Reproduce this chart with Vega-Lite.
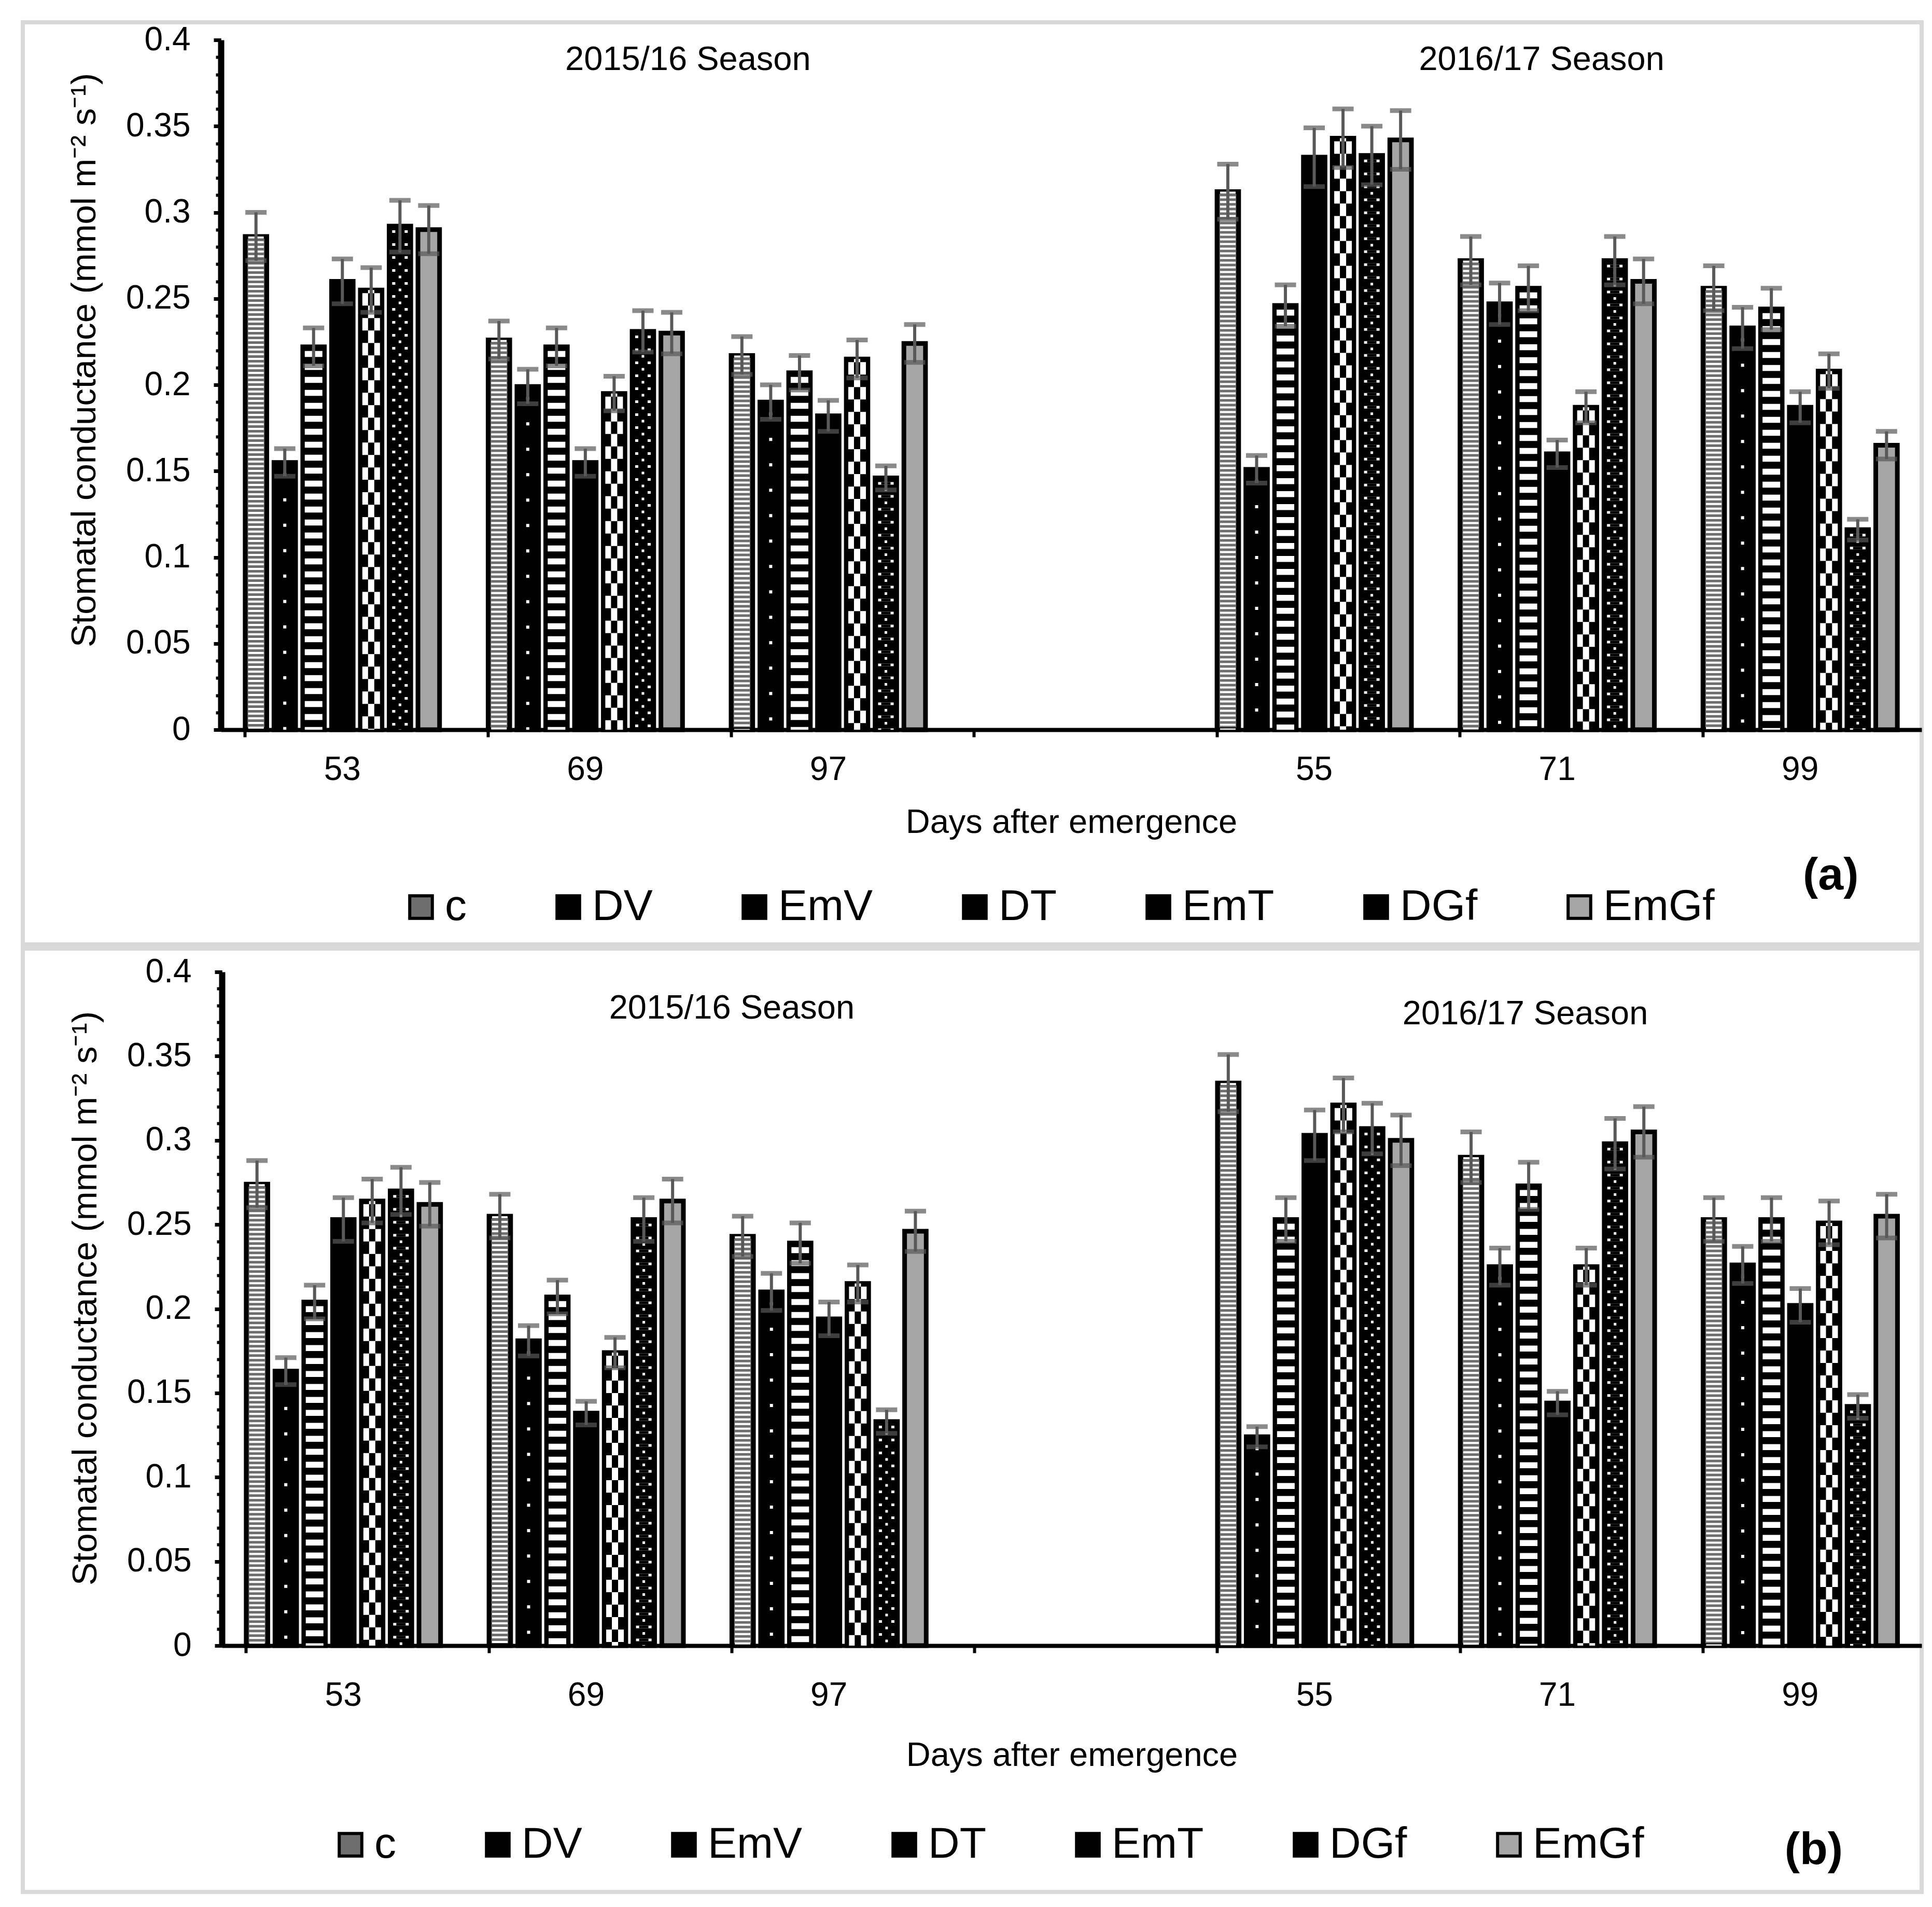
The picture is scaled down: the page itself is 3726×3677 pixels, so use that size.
{
  "$schema": "https://vega.github.io/schema/vega-lite/v6.json",
  "background": "white",
  "padding": {"left": 40, "top": 39, "right": 0, "bottom": 0},
  "spacing": 0,
  "resolve": {"scale": {"color": "independent"}, "legend": {"color": "independent"}},
  "datasets": {
    "a": [
      {"d": "53", "t": "c", "v": 0.286, "lo": 0.272, "hi": 0.300},
      {"d": "53", "t": "DV", "v": 0.155, "lo": 0.147, "hi": 0.163},
      {"d": "53", "t": "EmV", "v": 0.222, "lo": 0.211, "hi": 0.233},
      {"d": "53", "t": "DT", "v": 0.260, "lo": 0.247, "hi": 0.273},
      {"d": "53", "t": "EmT", "v": 0.255, "lo": 0.242, "hi": 0.268},
      {"d": "53", "t": "DGf", "v": 0.292, "lo": 0.277, "hi": 0.307},
      {"d": "53", "t": "EmGf", "v": 0.290, "lo": 0.276, "hi": 0.304},
      {"d": "69", "t": "c", "v": 0.226, "lo": 0.215, "hi": 0.237},
      {"d": "69", "t": "DV", "v": 0.199, "lo": 0.189, "hi": 0.209},
      {"d": "69", "t": "EmV", "v": 0.222, "lo": 0.211, "hi": 0.233},
      {"d": "69", "t": "DT", "v": 0.155, "lo": 0.147, "hi": 0.163},
      {"d": "69", "t": "EmT", "v": 0.195, "lo": 0.185, "hi": 0.205},
      {"d": "69", "t": "DGf", "v": 0.231, "lo": 0.219, "hi": 0.243},
      {"d": "69", "t": "EmGf", "v": 0.230, "lo": 0.218, "hi": 0.242},
      {"d": "97", "t": "c", "v": 0.217, "lo": 0.206, "hi": 0.228},
      {"d": "97", "t": "DV", "v": 0.190, "lo": 0.180, "hi": 0.200},
      {"d": "97", "t": "EmV", "v": 0.207, "lo": 0.197, "hi": 0.217},
      {"d": "97", "t": "DT", "v": 0.182, "lo": 0.173, "hi": 0.191},
      {"d": "97", "t": "EmT", "v": 0.215, "lo": 0.204, "hi": 0.226},
      {"d": "97", "t": "DGf", "v": 0.146, "lo": 0.139, "hi": 0.153},
      {"d": "97", "t": "EmGf", "v": 0.224, "lo": 0.213, "hi": 0.235},
      {"d": "55", "t": "c", "v": 0.312, "lo": 0.296, "hi": 0.328},
      {"d": "55", "t": "DV", "v": 0.151, "lo": 0.143, "hi": 0.159},
      {"d": "55", "t": "EmV", "v": 0.246, "lo": 0.234, "hi": 0.258},
      {"d": "55", "t": "DT", "v": 0.332, "lo": 0.315, "hi": 0.349},
      {"d": "55", "t": "EmT", "v": 0.343, "lo": 0.326, "hi": 0.360},
      {"d": "55", "t": "DGf", "v": 0.333, "lo": 0.316, "hi": 0.350},
      {"d": "55", "t": "EmGf", "v": 0.342, "lo": 0.325, "hi": 0.359},
      {"d": "71", "t": "c", "v": 0.272, "lo": 0.258, "hi": 0.286},
      {"d": "71", "t": "DV", "v": 0.247, "lo": 0.235, "hi": 0.259},
      {"d": "71", "t": "EmV", "v": 0.256, "lo": 0.243, "hi": 0.269},
      {"d": "71", "t": "DT", "v": 0.160, "lo": 0.152, "hi": 0.168},
      {"d": "71", "t": "EmT", "v": 0.187, "lo": 0.178, "hi": 0.196},
      {"d": "71", "t": "DGf", "v": 0.272, "lo": 0.258, "hi": 0.286},
      {"d": "71", "t": "EmGf", "v": 0.260, "lo": 0.247, "hi": 0.273},
      {"d": "99", "t": "c", "v": 0.256, "lo": 0.243, "hi": 0.269},
      {"d": "99", "t": "DV", "v": 0.233, "lo": 0.221, "hi": 0.245},
      {"d": "99", "t": "EmV", "v": 0.244, "lo": 0.232, "hi": 0.256},
      {"d": "99", "t": "DT", "v": 0.187, "lo": 0.178, "hi": 0.196},
      {"d": "99", "t": "EmT", "v": 0.208, "lo": 0.198, "hi": 0.218},
      {"d": "99", "t": "DGf", "v": 0.116, "lo": 0.110, "hi": 0.122},
      {"d": "99", "t": "EmGf", "v": 0.165, "lo": 0.157, "hi": 0.173}
    ],
    "b": [
      {"d": "53", "t": "c", "v": 0.274, "lo": 0.260, "hi": 0.288},
      {"d": "53", "t": "DV", "v": 0.163, "lo": 0.155, "hi": 0.171},
      {"d": "53", "t": "EmV", "v": 0.204, "lo": 0.194, "hi": 0.214},
      {"d": "53", "t": "DT", "v": 0.253, "lo": 0.240, "hi": 0.266},
      {"d": "53", "t": "EmT", "v": 0.264, "lo": 0.251, "hi": 0.277},
      {"d": "53", "t": "DGf", "v": 0.270, "lo": 0.256, "hi": 0.284},
      {"d": "53", "t": "EmGf", "v": 0.262, "lo": 0.249, "hi": 0.275},
      {"d": "69", "t": "c", "v": 0.255, "lo": 0.242, "hi": 0.268},
      {"d": "69", "t": "DV", "v": 0.181, "lo": 0.172, "hi": 0.190},
      {"d": "69", "t": "EmV", "v": 0.207, "lo": 0.197, "hi": 0.217},
      {"d": "69", "t": "DT", "v": 0.138, "lo": 0.131, "hi": 0.145},
      {"d": "69", "t": "EmT", "v": 0.174, "lo": 0.165, "hi": 0.183},
      {"d": "69", "t": "DGf", "v": 0.253, "lo": 0.240, "hi": 0.266},
      {"d": "69", "t": "EmGf", "v": 0.264, "lo": 0.251, "hi": 0.277},
      {"d": "97", "t": "c", "v": 0.243, "lo": 0.231, "hi": 0.255},
      {"d": "97", "t": "DV", "v": 0.210, "lo": 0.199, "hi": 0.221},
      {"d": "97", "t": "EmV", "v": 0.239, "lo": 0.227, "hi": 0.251},
      {"d": "97", "t": "DT", "v": 0.194, "lo": 0.184, "hi": 0.204},
      {"d": "97", "t": "EmT", "v": 0.215, "lo": 0.204, "hi": 0.226},
      {"d": "97", "t": "DGf", "v": 0.133, "lo": 0.126, "hi": 0.140},
      {"d": "97", "t": "EmGf", "v": 0.246, "lo": 0.234, "hi": 0.258},
      {"d": "55", "t": "c", "v": 0.334, "lo": 0.317, "hi": 0.351},
      {"d": "55", "t": "DV", "v": 0.124, "lo": 0.118, "hi": 0.130},
      {"d": "55", "t": "EmV", "v": 0.253, "lo": 0.240, "hi": 0.266},
      {"d": "55", "t": "DT", "v": 0.303, "lo": 0.288, "hi": 0.318},
      {"d": "55", "t": "EmT", "v": 0.321, "lo": 0.305, "hi": 0.337},
      {"d": "55", "t": "DGf", "v": 0.307, "lo": 0.292, "hi": 0.322},
      {"d": "55", "t": "EmGf", "v": 0.300, "lo": 0.285, "hi": 0.315},
      {"d": "71", "t": "c", "v": 0.290, "lo": 0.275, "hi": 0.305},
      {"d": "71", "t": "DV", "v": 0.225, "lo": 0.214, "hi": 0.236},
      {"d": "71", "t": "EmV", "v": 0.273, "lo": 0.259, "hi": 0.287},
      {"d": "71", "t": "DT", "v": 0.144, "lo": 0.137, "hi": 0.151},
      {"d": "71", "t": "EmT", "v": 0.225, "lo": 0.214, "hi": 0.236},
      {"d": "71", "t": "DGf", "v": 0.298, "lo": 0.283, "hi": 0.313},
      {"d": "71", "t": "EmGf", "v": 0.305, "lo": 0.290, "hi": 0.320},
      {"d": "99", "t": "c", "v": 0.253, "lo": 0.240, "hi": 0.266},
      {"d": "99", "t": "DV", "v": 0.226, "lo": 0.215, "hi": 0.237},
      {"d": "99", "t": "EmV", "v": 0.253, "lo": 0.240, "hi": 0.266},
      {"d": "99", "t": "DT", "v": 0.202, "lo": 0.192, "hi": 0.212},
      {"d": "99", "t": "EmT", "v": 0.251, "lo": 0.238, "hi": 0.264},
      {"d": "99", "t": "DGf", "v": 0.142, "lo": 0.135, "hi": 0.149},
      {"d": "99", "t": "EmGf", "v": 0.255, "lo": 0.242, "hi": 0.268}
    ]
  },
  "vconcat": [
    {
      "width": 3662, "height": 1778,
      "data": {"name": "a"},
      "resolve": {"axis": {"x": "independent", "y": "independent"}},
      "layer": [
        {
          "mark": {"type": "bar", "stroke": "black", "strokeWidth": 9},
          "encoding": {
            "x": {"field": "d", "type": "nominal",
              "scale": {"domain": ["53", "69", "97", "gap", "55", "71", "99"], "range": [382, 3662], "paddingInner": 0.2, "paddingOuter": 0.1},
              "axis": {"orient": "bottom", "offset": -414, "labelExpr": "datum.value == 'gap' ? '' : datum.value", "labelAngle": 0, "labelFontSize": 64, "labelPadding": 45, "ticks": false, "tickSize": 0, "domainWidth": 8, "title": "Days after emergence", "titleFontSize": 65, "titlePadding": 38}},
            "xOffset": {"field": "t", "type": "nominal", "scale": {"domain": ["c", "DV", "EmV", "DT", "EmT", "DGf", "EmGf"], "paddingInner": 0.25, "paddingOuter": 0}},
            "y": {"field": "v", "type": "quantitative",
              "scale": {"domain": [0, 0.4], "range": [1364, 34], "nice": false},
              "axis": {"orient": "left", "offset": -382, "values": [0, 0.05, 0.1, 0.15, 0.2, 0.25, 0.3, 0.35, 0.4], "format": "~g", "labelFontSize": 64, "labelPadding": 45, "tickSize": 14, "tickWidth": 7, "domainWidth": 12, "title": "Stomatal conductance (mmol m⁻² s⁻¹)", "titleFontSize": 67, "titlePadding": 45, "titleY": 651}},
            "color": {"field": "t", "type": "nominal",
              "scale": {"domain": ["c", "DV", "EmV", "DT", "EmT", "DGf", "EmGf"], "range": ["#6e6e6e", "#000000", "#000000", "#000000", "#000000", "#000000", "#a6a6a6"]},
              "legend": {"orient": "none", "legendX": 726, "legendY": 1664, "direction": "horizontal", "title": null, "labelFontSize": 84, "labelLimit": 400, "labelOffset": 4, "columnPadding": 154, "symbolType": "square", "symbolSize": 1900, "symbolStrokeColor": "black", "symbolStrokeWidth": 6, "padding": 0}}
          }
        },
        {
          "transform": [{"filter": "datum.t == 'c'"}],
          "mark": {"type": "rule", "stroke": "white", "strokeWidth": 30, "strokeDash": [4, 5]},
          "encoding": {"x": {"field": "d", "type": "nominal", "axis": null}, "xOffset": {"field": "t", "type": "nominal"}, "y": {"field": "v", "type": "quantitative", "axis": null}, "y2": {"datum": 0}}
        },
        {
          "transform": [{"filter": "datum.t == 'DV'"}],
          "mark": {"type": "rule", "stroke": "white", "strokeWidth": 6, "strokeDash": [6, 43], "strokeDashOffset": -20},
          "encoding": {"x": {"field": "d", "type": "nominal", "axis": null}, "xOffset": {"field": "t", "type": "nominal"}, "y": {"field": "v", "type": "quantitative", "axis": null}, "y2": {"datum": 0}}
        },
        {
          "transform": [{"filter": "datum.t == 'EmV'"}],
          "mark": {"type": "rule", "stroke": "white", "strokeWidth": 34, "strokeDash": [11.5, 13.5], "strokeDashOffset": -8},
          "encoding": {"x": {"field": "d", "type": "nominal", "axis": null}, "xOffset": {"field": "t", "type": "nominal"}, "y": {"field": "v", "type": "quantitative", "axis": null}, "y2": {"datum": 0}}
        },
        {
          "transform": [{"filter": "datum.t == 'EmT'"}],
          "mark": {"type": "rule", "stroke": "white", "strokeWidth": 34, "strokeDash": [24, 24], "strokeDashOffset": -6},
          "encoding": {"x": {"field": "d", "type": "nominal", "axis": null}, "xOffset": {"field": "t", "type": "nominal"}, "y": {"field": "v", "type": "quantitative", "axis": null}, "y2": {"datum": 0}}
        },
        {
          "transform": [{"filter": "datum.t == 'EmT'"}],
          "mark": {"type": "rule", "stroke": "black", "strokeWidth": 12, "strokeDash": [24, 24], "strokeDashOffset": -6},
          "encoding": {"x": {"field": "d", "type": "nominal", "axis": null}, "xOffset": {"field": "t", "type": "nominal"}, "y": {"field": "v", "type": "quantitative", "axis": null}, "y2": {"datum": 0}}
        },
        {
          "transform": [{"filter": "datum.t == 'EmT'"}],
          "mark": {"type": "rule", "stroke": "white", "strokeWidth": 12, "strokeDash": [24, 24], "strokeDashOffset": 18},
          "encoding": {"x": {"field": "d", "type": "nominal", "axis": null}, "xOffset": {"field": "t", "type": "nominal"}, "y": {"field": "v", "type": "quantitative", "axis": null}, "y2": {"datum": 0}}
        },
        {
          "transform": [{"filter": "datum.t == 'DGf'"}],
          "mark": {"type": "rule", "stroke": "white", "strokeWidth": 30, "strokeDash": [5, 20], "strokeDashOffset": -8},
          "encoding": {"x": {"field": "d", "type": "nominal", "axis": null}, "xOffset": {"field": "t", "type": "nominal"}, "y": {"field": "v", "type": "quantitative", "axis": null}, "y2": {"datum": 0}}
        },
        {
          "transform": [{"filter": "datum.t == 'DGf'"}],
          "mark": {"type": "rule", "stroke": "black", "strokeWidth": 18, "strokeDash": [5, 20], "strokeDashOffset": -8},
          "encoding": {"x": {"field": "d", "type": "nominal", "axis": null}, "xOffset": {"field": "t", "type": "nominal"}, "y": {"field": "v", "type": "quantitative", "axis": null}, "y2": {"datum": 0}}
        },
        {
          "transform": [{"filter": "datum.t == 'DGf'"}],
          "mark": {"type": "rule", "stroke": "white", "strokeWidth": 5, "strokeDash": [5, 20], "strokeDashOffset": 4.5},
          "encoding": {"x": {"field": "d", "type": "nominal", "axis": null}, "xOffset": {"field": "t", "type": "nominal"}, "y": {"field": "v", "type": "quantitative", "axis": null}, "y2": {"datum": 0}}
        },
        {
          "mark": {"type": "rule", "stroke": "#595959", "strokeWidth": 6},
          "encoding": {
            "x": {"field": "d", "type": "nominal", "axis": {"orient": "bottom", "offset": -414, "bandPosition": 0, "labels": false, "domain": false, "ticks": true, "tickSize": 14, "tickWidth": 6, "title": null}},
            "xOffset": {"field": "t", "type": "nominal"},
            "y": {"field": "lo", "type": "quantitative", "axis": {"orient": "left", "offset": -382, "values": [0, 0.01, 0.02, 0.03, 0.04, 0.05, 0.06, 0.07, 0.08, 0.09, 0.1, 0.11, 0.12, 0.13, 0.14, 0.15, 0.16, 0.17, 0.18, 0.19, 0.2, 0.21, 0.22, 0.23, 0.24, 0.25, 0.26, 0.27, 0.28, 0.29, 0.3, 0.31, 0.32, 0.33, 0.34, 0.35, 0.36, 0.37, 0.38, 0.39, 0.4], "labels": false, "domain": false, "tickSize": 10, "tickWidth": 6, "title": null}},
            "y2": {"field": "hi"}
          }
        },
        {
          "mark": {"type": "tick", "color": "#595959", "size": 41, "thickness": 9},
          "encoding": {"x": {"field": "d", "type": "nominal", "axis": null}, "xOffset": {"field": "t", "type": "nominal"}, "y": {"field": "lo", "type": "quantitative", "axis": null}}
        },
        {
          "mark": {"type": "tick", "color": "#595959", "size": 41, "thickness": 9},
          "encoding": {"x": {"field": "d", "type": "nominal", "axis": null}, "xOffset": {"field": "t", "type": "nominal"}, "y": {"field": "hi", "type": "quantitative", "axis": null}}
        },
        {
          "data": {"values": [{}]},
          "mark": {"type": "text", "text": "2015/16 Season", "fontSize": 65, "dx": 198, "baseline": "middle"},
          "encoding": {"x": {"datum": "69", "axis": null}, "y": {"datum": 0.3886, "axis": null}}
        },
        {
          "data": {"values": [{}]},
          "mark": {"type": "text", "text": "2016/17 Season", "fontSize": 65, "dx": -30, "baseline": "middle"},
          "encoding": {"x": {"datum": "71", "axis": null}, "y": {"datum": 0.3886, "axis": null}}
        },
        {
          "data": {"values": [{}]},
          "mark": {"type": "text", "text": "(a)", "fontSize": 88, "fontWeight": "bold", "dx": 59, "baseline": "middle"},
          "encoding": {"x": {"datum": "99", "axis": null}, "y": {"datum": -0.0848, "axis": null}}
        }
      ]
    },
    {
      "width": 3662, "height": 1819,
      "data": {"name": "b"},
      "resolve": {"axis": {"x": "independent", "y": "independent"}},
      "layer": [
        {
          "mark": {"type": "bar", "stroke": "black", "strokeWidth": 9},
          "encoding": {
            "x": {"field": "d", "type": "nominal",
              "scale": {"domain": ["53", "69", "97", "gap", "55", "71", "99"], "range": [384, 3662], "paddingInner": 0.2, "paddingOuter": 0.1},
              "axis": {"orient": "bottom", "offset": -475, "labelExpr": "datum.value == 'gap' ? '' : datum.value", "labelAngle": 0, "labelFontSize": 64, "labelPadding": 64, "ticks": false, "tickSize": 0, "domainWidth": 8, "title": "Days after emergence", "titleFontSize": 65, "titlePadding": 52}},
            "xOffset": {"field": "t", "type": "nominal", "scale": {"domain": ["c", "DV", "EmV", "DT", "EmT", "DGf", "EmGf"], "paddingInner": 0.25, "paddingOuter": 0}},
            "y": {"field": "v", "type": "quantitative",
              "scale": {"domain": [0, 0.4], "range": [1344, 45], "nice": false},
              "axis": {"orient": "left", "offset": -384, "values": [0, 0.05, 0.1, 0.15, 0.2, 0.25, 0.3, 0.35, 0.4], "format": "~g", "labelFontSize": 64, "labelPadding": 45, "tickSize": 14, "tickWidth": 7, "domainWidth": 12, "title": "Stomatal conductance (mmol m⁻² s⁻¹)", "titleFontSize": 67, "titlePadding": 45, "titleY": 674}},
            "color": {"field": "t", "type": "nominal",
              "scale": {"domain": ["c", "DV", "EmV", "DT", "EmT", "DGf", "EmGf"], "range": ["#6e6e6e", "#000000", "#000000", "#000000", "#000000", "#000000", "#a6a6a6"]},
              "legend": {"orient": "none", "legendX": 590, "legendY": 1686, "direction": "horizontal", "title": null, "labelFontSize": 84, "labelLimit": 400, "labelOffset": 4, "columnPadding": 154, "symbolType": "square", "symbolSize": 1900, "symbolStrokeColor": "black", "symbolStrokeWidth": 6, "padding": 0}}
          }
        },
        {
          "transform": [{"filter": "datum.t == 'c'"}],
          "mark": {"type": "rule", "stroke": "white", "strokeWidth": 30, "strokeDash": [4, 5]},
          "encoding": {"x": {"field": "d", "type": "nominal", "axis": null}, "xOffset": {"field": "t", "type": "nominal"}, "y": {"field": "v", "type": "quantitative", "axis": null}, "y2": {"datum": 0}}
        },
        {
          "transform": [{"filter": "datum.t == 'DV'"}],
          "mark": {"type": "rule", "stroke": "white", "strokeWidth": 6, "strokeDash": [6, 43], "strokeDashOffset": -20},
          "encoding": {"x": {"field": "d", "type": "nominal", "axis": null}, "xOffset": {"field": "t", "type": "nominal"}, "y": {"field": "v", "type": "quantitative", "axis": null}, "y2": {"datum": 0}}
        },
        {
          "transform": [{"filter": "datum.t == 'EmV'"}],
          "mark": {"type": "rule", "stroke": "white", "strokeWidth": 34, "strokeDash": [11.5, 13.5], "strokeDashOffset": -8},
          "encoding": {"x": {"field": "d", "type": "nominal", "axis": null}, "xOffset": {"field": "t", "type": "nominal"}, "y": {"field": "v", "type": "quantitative", "axis": null}, "y2": {"datum": 0}}
        },
        {
          "transform": [{"filter": "datum.t == 'EmT'"}],
          "mark": {"type": "rule", "stroke": "white", "strokeWidth": 34, "strokeDash": [24, 24], "strokeDashOffset": -6},
          "encoding": {"x": {"field": "d", "type": "nominal", "axis": null}, "xOffset": {"field": "t", "type": "nominal"}, "y": {"field": "v", "type": "quantitative", "axis": null}, "y2": {"datum": 0}}
        },
        {
          "transform": [{"filter": "datum.t == 'EmT'"}],
          "mark": {"type": "rule", "stroke": "black", "strokeWidth": 12, "strokeDash": [24, 24], "strokeDashOffset": -6},
          "encoding": {"x": {"field": "d", "type": "nominal", "axis": null}, "xOffset": {"field": "t", "type": "nominal"}, "y": {"field": "v", "type": "quantitative", "axis": null}, "y2": {"datum": 0}}
        },
        {
          "transform": [{"filter": "datum.t == 'EmT'"}],
          "mark": {"type": "rule", "stroke": "white", "strokeWidth": 12, "strokeDash": [24, 24], "strokeDashOffset": 18},
          "encoding": {"x": {"field": "d", "type": "nominal", "axis": null}, "xOffset": {"field": "t", "type": "nominal"}, "y": {"field": "v", "type": "quantitative", "axis": null}, "y2": {"datum": 0}}
        },
        {
          "transform": [{"filter": "datum.t == 'DGf'"}],
          "mark": {"type": "rule", "stroke": "white", "strokeWidth": 30, "strokeDash": [5, 20], "strokeDashOffset": -8},
          "encoding": {"x": {"field": "d", "type": "nominal", "axis": null}, "xOffset": {"field": "t", "type": "nominal"}, "y": {"field": "v", "type": "quantitative", "axis": null}, "y2": {"datum": 0}}
        },
        {
          "transform": [{"filter": "datum.t == 'DGf'"}],
          "mark": {"type": "rule", "stroke": "black", "strokeWidth": 18, "strokeDash": [5, 20], "strokeDashOffset": -8},
          "encoding": {"x": {"field": "d", "type": "nominal", "axis": null}, "xOffset": {"field": "t", "type": "nominal"}, "y": {"field": "v", "type": "quantitative", "axis": null}, "y2": {"datum": 0}}
        },
        {
          "transform": [{"filter": "datum.t == 'DGf'"}],
          "mark": {"type": "rule", "stroke": "white", "strokeWidth": 5, "strokeDash": [5, 20], "strokeDashOffset": 4.5},
          "encoding": {"x": {"field": "d", "type": "nominal", "axis": null}, "xOffset": {"field": "t", "type": "nominal"}, "y": {"field": "v", "type": "quantitative", "axis": null}, "y2": {"datum": 0}}
        },
        {
          "mark": {"type": "rule", "stroke": "#595959", "strokeWidth": 6},
          "encoding": {
            "x": {"field": "d", "type": "nominal", "axis": {"orient": "bottom", "offset": -475, "bandPosition": 0, "labels": false, "domain": false, "ticks": true, "tickSize": 14, "tickWidth": 6, "title": null}},
            "xOffset": {"field": "t", "type": "nominal"},
            "y": {"field": "lo", "type": "quantitative", "axis": {"orient": "left", "offset": -384, "values": [0, 0.01, 0.02, 0.03, 0.04, 0.05, 0.06, 0.07, 0.08, 0.09, 0.1, 0.11, 0.12, 0.13, 0.14, 0.15, 0.16, 0.17, 0.18, 0.19, 0.2, 0.21, 0.22, 0.23, 0.24, 0.25, 0.26, 0.27, 0.28, 0.29, 0.3, 0.31, 0.32, 0.33, 0.34, 0.35, 0.36, 0.37, 0.38, 0.39, 0.4], "labels": false, "domain": false, "tickSize": 10, "tickWidth": 6, "title": null}},
            "y2": {"field": "hi"}
          }
        },
        {
          "mark": {"type": "tick", "color": "#595959", "size": 41, "thickness": 9},
          "encoding": {"x": {"field": "d", "type": "nominal", "axis": null}, "xOffset": {"field": "t", "type": "nominal"}, "y": {"field": "lo", "type": "quantitative", "axis": null}}
        },
        {
          "mark": {"type": "tick", "color": "#595959", "size": 41, "thickness": 9},
          "encoding": {"x": {"field": "d", "type": "nominal", "axis": null}, "xOffset": {"field": "t", "type": "nominal"}, "y": {"field": "hi", "type": "quantitative", "axis": null}}
        },
        {
          "data": {"values": [{}]},
          "mark": {"type": "text", "text": "2015/16 Season", "fontSize": 65, "dx": 281, "baseline": "middle"},
          "encoding": {"x": {"datum": "69", "axis": null}, "y": {"datum": 0.3785, "axis": null}}
        },
        {
          "data": {"values": [{}]},
          "mark": {"type": "text", "text": "2016/17 Season", "fontSize": 65, "dx": -62, "baseline": "middle"},
          "encoding": {"x": {"datum": "71", "axis": null}, "y": {"datum": 0.375, "axis": null}}
        },
        {
          "data": {"values": [{}]},
          "mark": {"type": "text", "text": "(b)", "fontSize": 88, "fontWeight": "bold", "dx": 26, "baseline": "middle"},
          "encoding": {"x": {"datum": "99", "axis": null}, "y": {"datum": -0.1216, "axis": null}}
        }
      ]
    }
  ],
  "config": {
    "view": {"stroke": "#d9d9d9", "strokeWidth": 8},
    "font": "Liberation Sans",
    "axis": {"labelColor": "black", "titleColor": "black", "domainColor": "black", "tickColor": "black", "titleFontWeight": "normal", "grid": false, "labelFont": "Liberation Sans", "titleFont": "Liberation Sans"},
    "legend": {"labelFont": "Liberation Sans", "labelColor": "black"},
    "text": {"font": "Liberation Sans", "color": "black"}
  }
}
